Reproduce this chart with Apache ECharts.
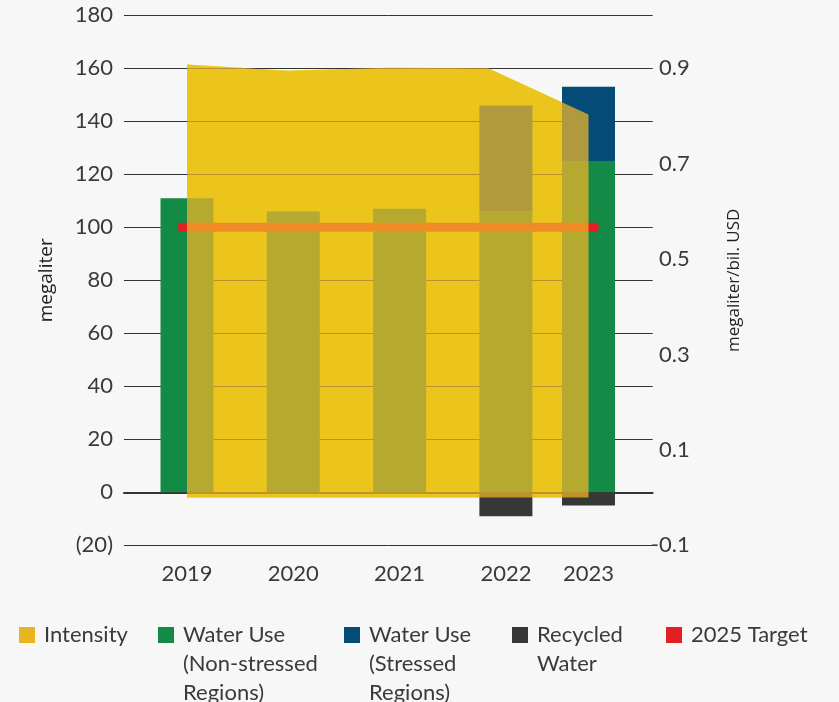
<!DOCTYPE html>
<html>
<head>
<meta charset="utf-8">
<script src="https://cdn.jsdelivr.net/npm/echarts@6/dist/echarts.min.js"></script>
<style>
html,body{margin:0;padding:0;background:#f7f7f7;}
#chart{width:839px;height:702px;}
</style>
</head>
<body>
<div id="chart"></div>
<script>
// ---- data ----
const years = ['2019', '2020', '2021', '2022', '2023'];
const nonStressed = [111, 106, 107, 106, 125];
const stressed = [null, null, null, 40, 28];
const recycled = [null, null, null, -9, -5];
const intensity = [0.908, 0.895, 0.901, 0.900, 0.803];
const target = [100, 100, 100, 100, 100];

const FONT = 'Lato';
const TXT = '#3a3a3a';
const C = {
  areaBase: '#d4ea00',   // opaque under-layer of the intensity area
  areaTop: '#f4b727',    // translucent over-layer (blends over bars)
  legendYellow: '#e6b622',
  green: '#138a45', blue: '#054b78', dark: '#363835', red: '#e31e25'
};
const AREA_ALPHA = 0.72;
const NAMES = {
  intensity: 'Intensity',
  non: 'Water Use (Non-stressed Regions)',
  str: 'Water Use (Stressed Regions)',
  rec: 'Recycled Water',
  tgt: '2025 Target'
};
const legendLines = {};
legendLines[NAMES.intensity] = ['Intensity'];
legendLines[NAMES.non] = ['Water Use', '(Non-stressed', 'Regions)'];
legendLines[NAMES.str] = ['Water Use', '(Stressed', 'Regions)'];
legendLines[NAMES.rec] = ['Recycled', 'Water'];
legendLines[NAMES.tgt] = ['2025 Target'];

const legendItems = [
  { name: NAMES.intensity, left: 19, color: C.legendYellow },
  { name: NAMES.non, left: 158, color: C.green },
  { name: NAMES.str, left: 344, color: C.blue },
  { name: NAMES.rec, left: 512, color: C.dark },
  { name: NAMES.tgt, left: 666, color: C.red }
];

const W = 839;
const gTop = 15.3, gBottom = 702 - 545.3;
const rMax = 200 / 180 - 0.1;
const step = 106.3;          // spacing of the 2019-2022 bar groups
const firstC = 187;          // centre of the 2019 group
const lastC = 588.5;         // centre of the 2023 group
const nMain = 4;             // groups drawn on the evenly spaced band

const mainYears = years.slice(0, nMain), lastYears = years.slice(nMain);
const nz = v => (v == null ? '-' : v);

function grid(left, right) {
  return { left: left, right: W - right, top: gTop, bottom: gBottom, outerBoundsMode: 'none' };
}
function catAxis(gi, data, showLabel) {
  return {
    type: 'category', gridIndex: gi, data: data, z: 5,
    axisLine: { show: false, onZero: false }, axisTick: { show: false }, splitLine: { show: false },
    axisLabel: { show: showLabel, fontFamily: FONT, fontSize: 22, color: TXT, margin: 18 }
  };
}
function hiddenY(gi, min, max) {
  return { type: 'value', gridIndex: gi, min: min, max: max, show: false, splitLine: { show: false } };
}
function barSeries(name, color, vals, xi, yi, stack) {
  return {
    name: name, type: 'bar', xAxisIndex: xi, yAxisIndex: yi, stack: stack, z: 2,
    barWidth: 53, data: vals.map(nz), itemStyle: { color: color }
  };
}

const chart = echarts.init(document.getElementById('chart'), null, { renderer: 'canvas' });
chart.setOption({
  backgroundColor: '#f7f7f7',
  animation: false,
  grid: [
    grid(124, 652.7),                                              // 0 frame
    grid(firstC - step / 2, firstC - step / 2 + step * nMain),     // 1 bars 2019-2022
    grid(lastC - step / 2, lastC + step / 2),                      // 2 bars 2023
    grid(firstC, lastC),                                           // 3 intensity area
    grid(182, 594.5)                                               // 4 target line
  ],
  xAxis: [
    {
      type: 'value', gridIndex: 0, min: 0, max: 1, position: 'bottom', z: 1,
      axisLine: { show: true, onZero: true, onZeroAxisIndex: 0, lineStyle: { color: '#333', width: 2 } },
      axisTick: { show: false }, axisLabel: { show: false }, splitLine: { show: false }
    },
    catAxis(1, mainYears, true),
    catAxis(2, lastYears, true),
    Object.assign(catAxis(3, years, false), { boundaryGap: false, show: false }),
    Object.assign(catAxis(4, years, false), { boundaryGap: false, show: false })
  ],
  yAxis: [
    {
      type: 'value', gridIndex: 0, min: -20, max: 180, interval: 20, z: 1,
      name: 'megaliter', nameLocation: 'middle', nameRotate: 90, nameGap: 68,
      nameTextStyle: { fontFamily: 'Open Sans', fontSize: 19, color: '#222' },
      axisLine: { show: false }, axisTick: { show: false },
      splitLine: { show: true, lineStyle: { color: '#333', width: 1 } },
      axisLabel: {
        fontFamily: FONT, fontSize: 22, color: TXT, margin: 11,
        formatter: v => v < 0 ? '(' + (-v) + ')' : String(v)
      }
    },
    {
      type: 'value', gridIndex: 0, position: 'right', min: -0.1, max: rMax, interval: 0.2, z: 5,
      name: 'megaliter/bil. USD', nameLocation: 'middle', nameRotate: 90, nameGap: 73,
      nameTextStyle: { fontFamily: 'Open Sans', fontSize: 17, color: '#222' },
      axisLine: { show: false }, axisTick: { show: false }, splitLine: { show: false },
      axisLabel: {
        fontFamily: FONT, fontSize: 22, color: TXT, margin: 37, align: 'right',
        showMaxLabel: false,
        formatter: v => (Math.abs(v - rMax) < 1e-6 ? '' : v.toFixed(1))
      }
    },
    hiddenY(1, -20, 180),
    hiddenY(2, -20, 180),
    hiddenY(3, -0.1, rMax),
    hiddenY(4, -20, 180)
  ],
  legend: legendItems.map(it => {
    const n = legendLines[it.name].length;
    const lineH = 29;
    return {
      left: it.left, top: 627 + 8 - (2 * n - 1) * lineH / 2, padding: 0,
      icon: 'rect', itemWidth: 16, itemHeight: 16, selectedMode: false,
      data: [{ name: it.name, itemStyle: { color: it.color, opacity: 1 } }],
      formatter: name => {
        const ls = legendLines[name];
        return new Array(ls.length - 1).fill('').concat(ls).join('\n');
      },
      textStyle: {
        fontFamily: FONT, fontSize: 22, color: TXT, lineHeight: lineH,
        padding: [0, 0, 0, 4]
      }
    };
  }),
  series: [
    {
      name: NAMES.intensity, type: 'line', xAxisIndex: 3, yAxisIndex: 4, z: 0,
      data: intensity, symbol: 'none', silent: true,
      itemStyle: { color: C.legendYellow },
      lineStyle: { width: 0, opacity: 0 },
      areaStyle: { color: C.areaBase, opacity: 1 }
    },
    barSeries(NAMES.non, C.green, nonStressed.slice(0, nMain), 1, 2, 'main'),
    barSeries(NAMES.str, C.blue, stressed.slice(0, nMain), 1, 2, 'main'),
    barSeries(NAMES.rec, C.dark, recycled.slice(0, nMain), 1, 2, 'main'),
    barSeries(NAMES.non, C.green, nonStressed.slice(nMain), 2, 3, 'last'),
    barSeries(NAMES.str, C.blue, stressed.slice(nMain), 2, 3, 'last'),
    barSeries(NAMES.rec, C.dark, recycled.slice(nMain), 2, 3, 'last'),
    {
      name: NAMES.tgt, type: 'line', xAxisIndex: 4, yAxisIndex: 5, z: 3,
      data: target, symbol: 'none', silent: true,
      itemStyle: { color: C.red },
      lineStyle: { color: C.red, width: 9, cap: 'round' }
    },
    {
      name: NAMES.intensity, type: 'line', xAxisIndex: 3, yAxisIndex: 4, z: 4,
      data: intensity, symbol: 'none', silent: true,
      itemStyle: { color: C.legendYellow },
      lineStyle: { width: 0, opacity: 0 },
      areaStyle: { color: C.areaTop, opacity: AREA_ALPHA }
    }
  ]
});
</script>
</body>
</html>
